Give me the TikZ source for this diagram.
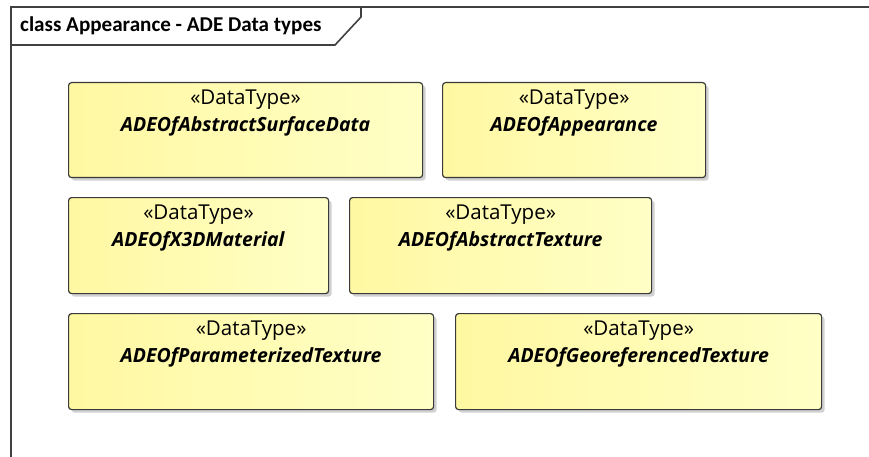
\documentclass[tikz,border=0pt]{standalone}
\usepackage{fontspec}
\setmainfont{Carlito}
\newfontfamily\boxfont{Open Sans}
\usetikzlibrary{shadows}
\definecolor{frameline}{HTML}{404040}
\definecolor{boxedge}{HTML}{3A3A3A}
\definecolor{fillA}{HTML}{FFF8A2}
\definecolor{fillB}{HTML}{FFFFC6}
\tikzset{
  dtbox/.style={draw=boxedge, line width=1.2pt, rounded corners=3pt,
    left color=fillA, right color=fillB, inner sep=0pt,
    drop shadow={shadow xshift=3pt, shadow yshift=-3pt, opacity=0.3, fill=black!60}},
  dtlabel/.style={font=\boxfont\fontsize{19.5}{27}\selectfont, align=center, anchor=north, inner sep=0pt},
  frame/.style={draw=frameline, line width=1.6pt}
}
\newcommand{\stereo}{{\fontsize{20.5}{27}\selectfont «DataType»}}
\begin{document}
\begin{tikzpicture}[x=1pt,y=1pt]
\useasboundingbox (0,0) rectangle (869,-457);
% diagram frame and name tab
\draw[frame] (11,-457) -- (11,-7) -- (869,-7);
\draw[frame] (11,-45) -- (335,-45) -- (361,-17) -- (361,-7);
\node[anchor=west, font=\bfseries\fontsize{21.1}{24}\selectfont, inner sep=0pt] (title) at (20,-26) {class Appearance - ADE Data types};
% data types
\node[dtbox, minimum width=354pt, minimum height=95pt, anchor=north west] (b1) at (68,-82) {};
\node[dtlabel] (t1) at ([yshift=-8pt]b1.north) {\stereo\\\textbf{\itshape ADEOfAbstractSurfaceData}};
\node[dtbox, minimum width=263pt, minimum height=95pt, anchor=north west] (b2) at (442,-82) {};
\node[dtlabel] (t2) at ([yshift=-8pt]b2.north) {\stereo\\\textbf{\itshape ADEOfAppearance}};
\node[dtbox, minimum width=260pt, minimum height=96pt, anchor=north west] (b3) at (68,-197) {};
\node[dtlabel] (t3) at ([yshift=-8pt]b3.north) {\stereo\\\textbf{\itshape ADEOfX3DMaterial}};
\node[dtbox, minimum width=302pt, minimum height=96pt, anchor=north west] (b4) at (349,-197) {};
\node[dtlabel] (t4) at ([yshift=-8pt]b4.north) {\stereo\\\textbf{\itshape ADEOfAbstractTexture}};
\node[dtbox, minimum width=365pt, minimum height=96pt, anchor=north west] (b5) at (68,-313) {};
\node[dtlabel] (t5) at ([yshift=-8pt]b5.north) {\stereo\\\textbf{\itshape ADEOfParameterizedTexture}};
\node[dtbox, minimum width=366pt, minimum height=96pt, anchor=north west] (b6) at (455,-313) {};
\node[dtlabel] (t6) at ([yshift=-8pt]b6.north) {\stereo\\\textbf{\itshape ADEOfGeoreferencedTexture}};
\end{tikzpicture}
\end{document}
